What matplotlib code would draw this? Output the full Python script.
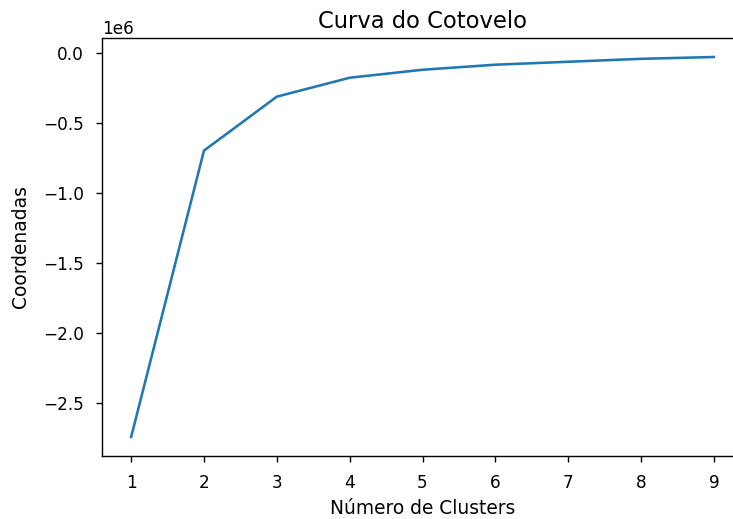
import matplotlib
matplotlib.use('Agg')
import matplotlib.pyplot as plt

# inertia per number of clusters (elbow method)
n_clusters = [1, 2, 3, 4, 5, 6, 7, 8, 9]
score = [-2.742e6, -0.698e6, -0.313e6, -0.178e6, -0.121e6, -0.085e6, -0.064e6, -0.043e6, -0.030e6]

plt.rcParams['font.size'] = 12.2
plt.rcParams['axes.linewidth'] = 1.0
plt.rcParams['xtick.major.size'] = 4.3
plt.rcParams['ytick.major.size'] = 4.3
plt.rcParams['xtick.major.width'] = 1.0
plt.rcParams['ytick.major.width'] = 1.0
plt.rcParams['xtick.major.pad'] = 8.8
plt.rcParams['ytick.major.pad'] = 8.8

fig = plt.figure(figsize=(7.33, 5.19), dpi=100)
# axes runs slightly past the right edge of the canvas
ax = fig.add_axes([102 / 733, 1 - 456 / 519, 641 / 733, 418 / 519])
ax.plot(n_clusters, score, color='#1f77b4', linewidth=1.85)
ax.spines['right'].set_visible(False)
ax.set_title('Curva do Cotovelo', fontsize=16.3, pad=7.3)
ax.set_xlabel('Número de Clusters', fontsize=13.4, labelpad=4.9)
ax.set_ylabel('Coordenadas', fontsize=13.4, labelpad=8.9)

fig.savefig('out.png', dpi=100)
